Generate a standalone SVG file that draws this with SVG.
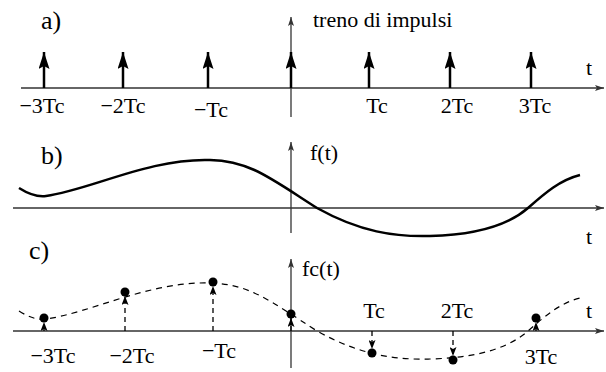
<svg xmlns="http://www.w3.org/2000/svg" width="606" height="372" viewBox="0 0 606 372">
<style>
text{font-family:"Liberation Serif","Times New Roman",serif;fill:#000}
.title{font-size:26px}
.lbl{font-size:22px}
.tick{font-size:22px;text-anchor:middle}
.axis{stroke:#333;stroke-width:1.3;fill:none}
.imp{stroke:#000;stroke-width:2.5;fill:none}
.samp{stroke:#000;stroke-width:1.3;fill:none;stroke-dasharray:5 4}
.curve{stroke:#000;stroke-width:2.5;fill:none}
.dcurve{stroke:#000;stroke-width:1.2;fill:none;stroke-dasharray:6 5}
</style>
<defs>
<marker id="big" markerUnits="userSpaceOnUse" viewBox="0 0 17 11" refX="17" refY="5.5" markerWidth="17" markerHeight="11" orient="auto"><path d="M0,0 L17,5.5 L0,11 L3,5.5 z" fill="#000"/></marker>
<marker id="small" markerUnits="userSpaceOnUse" viewBox="0 0 9 7" refX="9" refY="3.5" markerWidth="9" markerHeight="7" orient="auto"><path d="M0,0 L9,3.5 L0,7 L2,3.5 z" fill="#000"/></marker>
<marker id="ax" markerUnits="userSpaceOnUse" viewBox="0 0 9 6" refX="9" refY="3" markerWidth="9" markerHeight="6" orient="auto"><path d="M0,0 L9,3 L0,6 L2,3 z" fill="#333"/></marker>
</defs>

<g id="panel-a">
<text class="title" x="41" y="29">a)</text>
<text class="lbl" x="313" y="27">treno di impulsi</text>
<text class="lbl" x="586" y="75">t</text>
<g id="axes-a">
<line class="axis" x1="21" y1="88" x2="604" y2="88" marker-end="url(#ax)"/>
<line class="axis" x1="291" y1="117" x2="291" y2="17" marker-end="url(#ax)"/>
</g>
<g id="impulses-a">
<line class="imp" x1="44" y1="88" x2="44" y2="52" marker-end="url(#big)"/>
<line class="imp" x1="123" y1="88" x2="123" y2="52" marker-end="url(#big)"/>
<line class="imp" x1="208" y1="88" x2="208" y2="52" marker-end="url(#big)"/>
<line class="imp" x1="291" y1="88" x2="291" y2="52" marker-end="url(#big)"/>
<line class="imp" x1="369" y1="88" x2="369" y2="52" marker-end="url(#big)"/>
<line class="imp" x1="450" y1="88" x2="450" y2="52" marker-end="url(#big)"/>
<line class="imp" x1="531" y1="88" x2="531" y2="52" marker-end="url(#big)"/>
</g>
<text class="tick" x="42" y="113">−3Tc</text>
<text class="tick" x="123" y="113">−2Tc</text>
<text class="tick" x="211" y="117">−Tc</text>
<text class="tick" x="377" y="113">Tc</text>
<text class="tick" x="457" y="113">2Tc</text>
<text class="tick" x="535" y="113">3Tc</text>
</g>

<g id="panel-b">
<text class="title" x="41" y="164">b)</text>
<text class="lbl" x="310" y="160">f(t)</text>
<text class="lbl" x="586" y="244">t</text>
<g id="axes-b">
<line class="axis" x1="13" y1="208" x2="604" y2="208" marker-end="url(#ax)"/>
<line class="axis" x1="291" y1="233" x2="291" y2="142" marker-end="url(#ax)"/>
</g>
<path class="curve" d="M19,188 C30,195 38,197 46,196 C90,190 150,158 210,160 C250,161 270,178 317,208 C360,232 395,237 430,236 C470,235 505,228 528,208 C545,193 560,180 580,175"/>
</g>

<g id="panel-c">
<text class="title" x="29" y="259">c)</text>
<text class="lbl" x="302" y="276">fc(t)</text>
<text class="lbl" x="586" y="318">t</text>
<g id="axes-c">
<line class="axis" x1="13" y1="331" x2="604" y2="331" marker-end="url(#ax)"/>
<line class="axis" x1="291" y1="368" x2="291" y2="259" marker-end="url(#ax)"/>
</g>
<path class="dcurve" d="M19,311 C30,318 38,320 46,319 C90,313 150,281 210,283 C250,284 270,301 317,331 C360,355 395,360 430,359 C470,358 505,351 528,331 C545,316 560,303 580,298"/>
<g id="samples-c">
<line class="samp" x1="44" y1="331" x2="44" y2="322" marker-end="url(#small)"/>
<line class="samp" x1="125" y1="331" x2="125" y2="296" marker-end="url(#small)"/>
<line class="samp" x1="213" y1="331" x2="213" y2="286" marker-end="url(#small)"/>
<line class="samp" x1="291" y1="331" x2="291" y2="318" marker-end="url(#small)"/>
<line class="samp" x1="372" y1="331" x2="372" y2="349" marker-end="url(#small)"/>
<line class="samp" x1="453" y1="331" x2="453" y2="356" marker-end="url(#small)"/>
<line class="samp" x1="536" y1="331" x2="536" y2="322" marker-end="url(#small)"/>
<circle cx="44" cy="318" r="4.5"/>
<circle cx="125" cy="292" r="4.5"/>
<circle cx="213" cy="282" r="4.5"/>
<circle cx="291" cy="314" r="4.5"/>
<circle cx="372" cy="353" r="4.5"/>
<circle cx="453" cy="360" r="4.5"/>
<circle cx="536" cy="318" r="4.5"/>
</g>
<text class="tick" x="53" y="363">−3Tc</text>
<text class="tick" x="132" y="363">−2Tc</text>
<text class="tick" x="219" y="358">−Tc</text>
<text class="tick" x="374" y="318">Tc</text>
<text class="tick" x="457" y="318">2Tc</text>
<text class="tick" x="541" y="364">3Tc</text>
</g>
</svg>
